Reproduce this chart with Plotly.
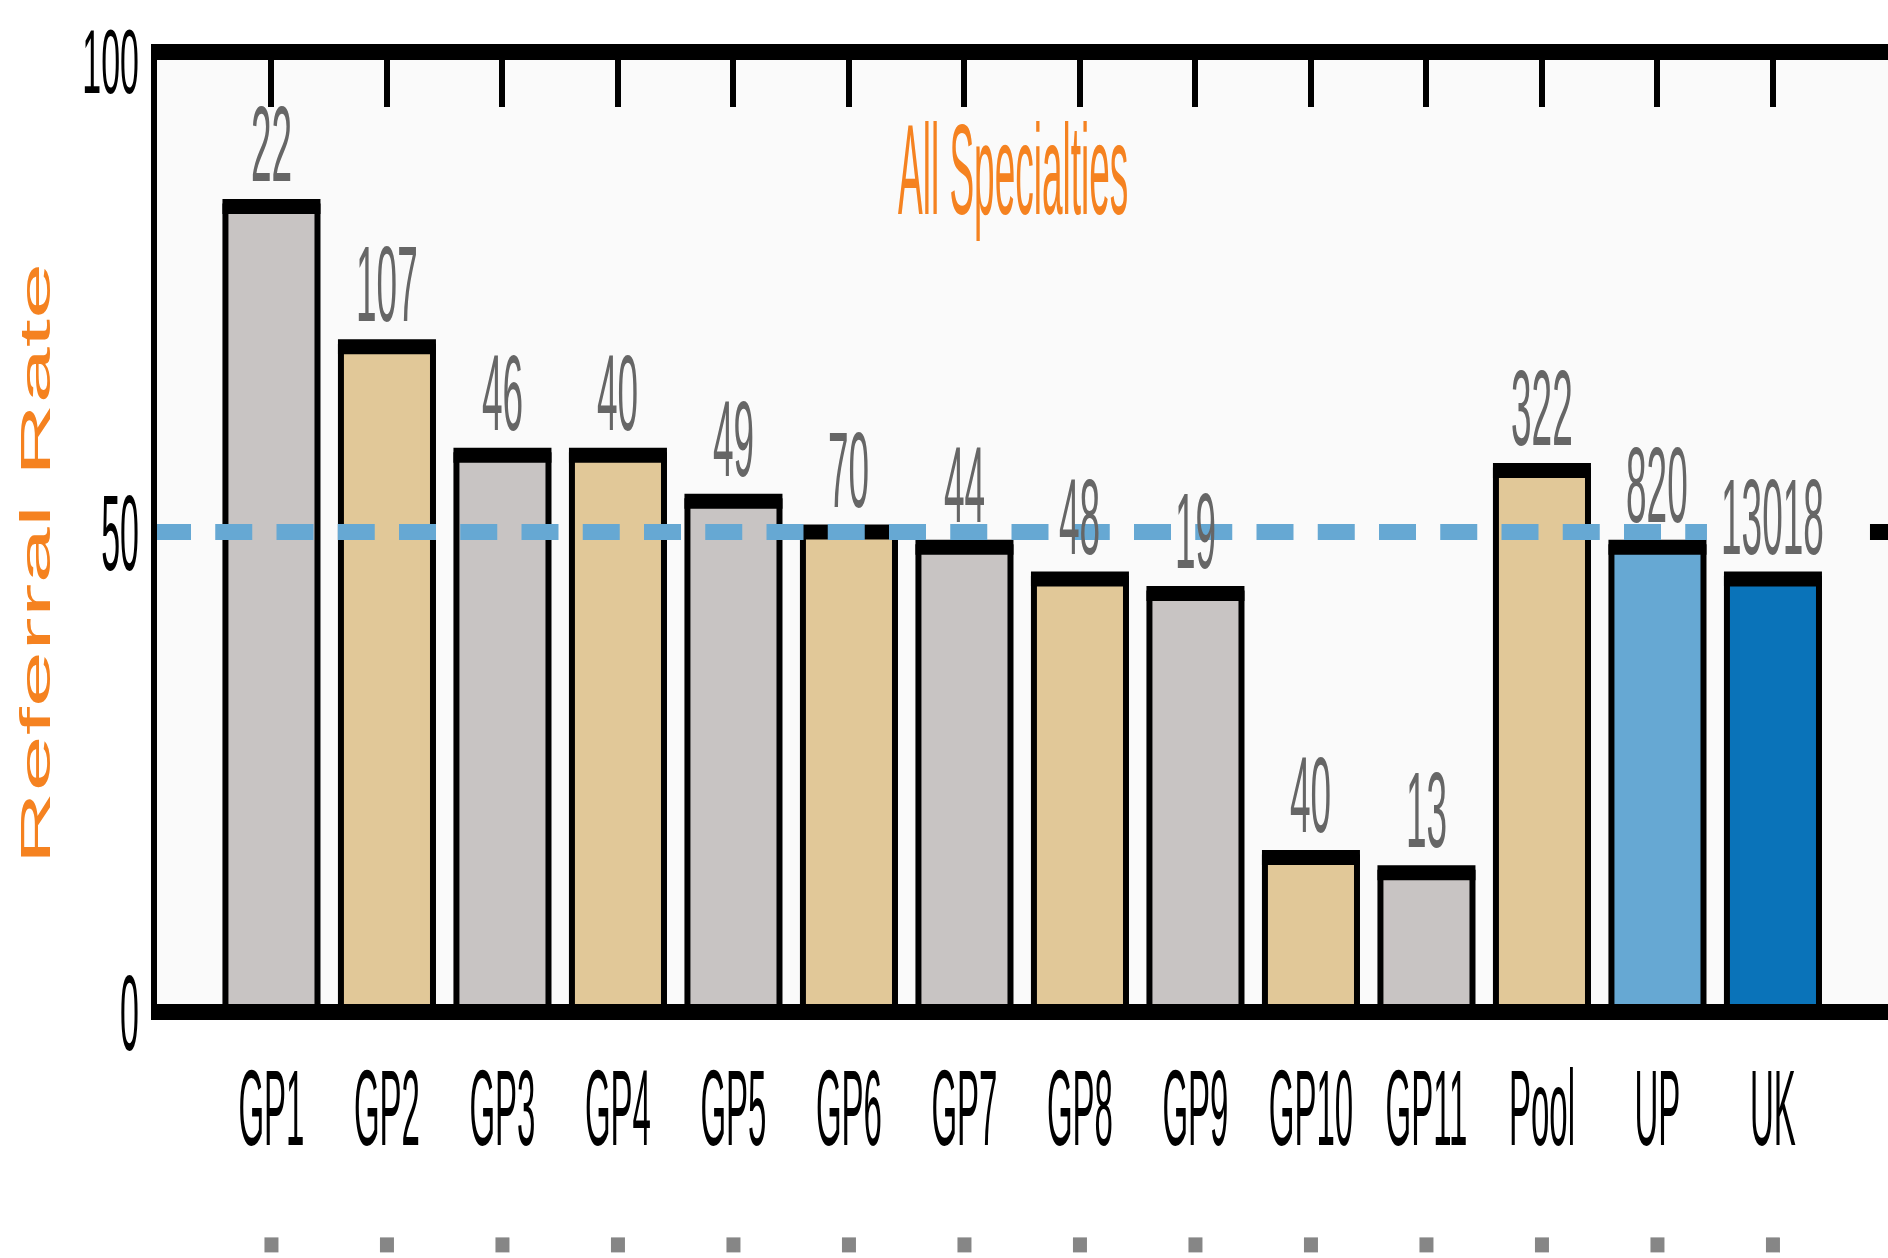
import json
import plotly.graph_objects as go

# ---- data -----------------------------------------------------------------
categories = ["GP1", "GP2", "GP3", "GP4", "GP5", "GP6", "GP7", "GP8", "GP9",
              "GP10", "GP11", "Pool", "UP", "UK"]
scores = [83.9, 69.3, 58.0, 58.0, 53.2, 50.0, 48.4, 45.1, 43.6,
          16.1, 14.5, 56.4, 48.4, 45.1]
counts = ["22", "107", "46", "40", "49", "70", "44", "48", "19",
          "40", "13", "322", "820", "13018"]
groups = ["gp", "gp_alt", "gp", "gp_alt", "gp", "gp_alt", "gp", "gp_alt", "gp",
          "gp_alt", "gp", "pool", "up", "uk"]
reference_level = 50
y_tick_values = [0, 50, 100]
chart_title = "All Specialties"
y_title = "Referral Rate"

# ---- styling --------------------------------------------------------------
palette = {"gp": "#C8C4C3", "gp_alt": "#E1C898", "pool": "#E1C898",
           "up": "#66A8D3", "uk": "#0A73B9"}
bar_colors = [palette[g] for g in groups]
ORANGE = "#F58220"
FONT = "Liberation Sans"
marker_row_y = -0.2426        # paper height of the small grey markers row

fig = go.Figure()

# bars with a thin black outline
fig.add_trace(go.Bar(
    x=categories, y=scores,
    marker=dict(color=bar_colors, line=dict(color="black", width=6)),
    hoverinfo="skip", showlegend=False,
))

# heavy black cap on top of every bar
fig.add_trace(go.Scatter(
    x=categories, y=scores, mode="markers",
    marker=dict(symbol="line-ew", size=70, line=dict(color="black", width=15)),
    hoverinfo="skip", showlegend=False,
))

annotations = []
for cat, val, n in zip(categories, scores, counts):
    annotations.append(dict(
        x=cat, y=val, xref="x", yref="y", text=n, showarrow=False,
        yshift=62, xanchor="center", yanchor="middle",
        font=dict(family=FONT, size=37, color="#666666"),
    ))
annotations.append(dict(
    x=0.4954, y=0.8766, xref="paper", yref="paper", text=chart_title,
    showarrow=False, xanchor="center", yanchor="middle",
    font=dict(family=FONT, size=37, color=ORANGE),
))
annotations.append(dict(
    x=0, y=0.4675, xref="paper", yref="paper", text=y_title, textangle=-90,
    xshift=-118.6, showarrow=False, xanchor="center", yanchor="middle",
    font=dict(family=FONT, size=42, color=ORANGE),
))

shapes = [
    # dashed reference line
    dict(type="line", xref="paper", x0=0, x1=0.8956, yref="y",
         y0=reference_level, y1=reference_level, layer="above",
         line=dict(color="#66A8D3", width=16, dash="37px,24.25px")),
    dict(type="line", xref="paper", x0=0.9896, x1=1.0, yref="y",
         y0=reference_level, y1=reference_level, layer="above",
         line=dict(color="black", width=16)),
    # frame
    dict(type="line", xref="paper", x0=0, x1=1, yref="paper", y0=1, y1=1,
         layer="above", line=dict(color="black", width=16)),
    dict(type="line", xref="paper", x0=0, x1=1, yref="paper", y0=0, y1=0,
         layer="above", line=dict(color="black", width=16)),
    dict(type="line", xref="paper", x0=0, x1=0, yref="paper", y0=-0.0083,
         y1=1.0083, layer="above", line=dict(color="black", width=6)),
]

# small grey marker under each category label
for i, _ in enumerate(categories):
    shapes.append(dict(
        type="rect", xref="x", yref="paper",
        xsizemode="pixel", ysizemode="pixel",
        xanchor=i, yanchor=marker_row_y,
        x0=-7, x1=7, y0=-7.5, y1=7.5,
        fillcolor="#868686", line=dict(width=0), layer="above",
    ))

fig.update_layout(
    width=1888, height=1258,
    margin=dict(l=154, r=0, t=51.5, b=246, pad=0),
    paper_bgcolor="white", plot_bgcolor="#FAFAFA",
    bargap=0.203, showlegend=False,
    annotations=annotations, shapes=shapes,
    xaxis=dict(
        type="category", range=[-1.017, 13.996],
        ticks="inside", ticklen=55, tickwidth=6, tickcolor="black",
        mirror="ticks", showline=False, showgrid=False, zeroline=False,
        layer="below traces", ticklabelstandoff=73,
        tickfont=dict(family=FONT, size=33, color="black"),
    ),
    yaxis=dict(
        range=[0, 100], tickvals=y_tick_values,
        ticktext=[str(v) for v in y_tick_values],
        ticks="", showline=False, showgrid=False, zeroline=False,
        ticklabelstandoff=14,
        tickfont=dict(family=FONT, size=34, color="black"),
    ),
)

# tall, narrow lettering: stretch every label vertically about its centre.
# A label whose stretched box would run past the page edge is stretched a
# little less and nudged inwards so it stays fully on the page.
stretch_cfg = {"xtick": 3.26, "ytick": 3.16,
               "annotations": [2.9] * len(categories) + [3.45, 2.41]}

stretch_js = """
var gd = document.getElementById('{plot_id}');
var cfg = STRETCH_CFG;
var pageH = gd.getBoundingClientRect().height;
var EDGE = 18;
function stretchEl(el, k) {
  var r = el.getBoundingClientRect();
  if (!r.width || !r.height || !k) return;
  var cy = r.top + r.height / 2;
  var room = Math.min(cy, pageH - cy) - EDGE;
  if (k * r.height / 2 > room) {
    k = Math.max(0.85 * k, 2 * room / r.height);
  }
  var half = k * r.height / 2;
  var shift = 0;
  if (cy - half < EDGE) shift = EDGE - (cy - half);
  if (cy + half > pageH - EDGE) shift = (pageH - EDGE) - (cy + half);
  var P = DOMMatrix.fromMatrix(el.parentNode.getScreenCTM());
  var S = new DOMMatrix().translate(0, cy + shift).scale(1, k).translate(0, -cy);
  var M = P.inverse().multiply(S).multiply(P);
  var T = el.getAttribute('transform') || '';
  el.setAttribute('transform', 'matrix(' + [M.a, M.b, M.c, M.d, M.e, M.f].join(',') + ') ' + T);
}
gd.querySelectorAll('.xtick text').forEach(function (t) { stretchEl(t, cfg.xtick); });
gd.querySelectorAll('.ytick text').forEach(function (t) { stretchEl(t, cfg.ytick); });
gd.querySelectorAll('g.annotation').forEach(function (g) {
  var i = +g.getAttribute('data-index');
  var t = g.querySelector('text');
  if (t) stretchEl(t, cfg.annotations[i]);
});
""".replace("STRETCH_CFG", json.dumps(stretch_cfg))

fig.write_html("out.html", post_script=stretch_js)
